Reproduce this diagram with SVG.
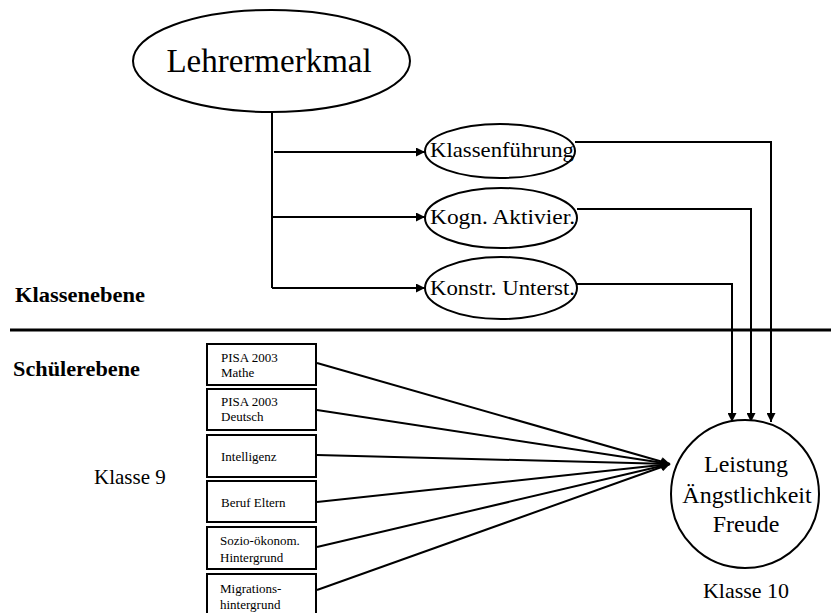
<svg xmlns="http://www.w3.org/2000/svg" width="831" height="613" viewBox="0 0 831 613" font-family="'Liberation Serif', 'Times New Roman', 'DejaVu Serif', serif">
<style>
text{font-family:'Liberation Serif','Times New Roman','DejaVu Serif',serif;fill:#000}
.node{fill:#fff;stroke:#000;stroke-width:2}
.c{fill:none;stroke:#000;stroke-width:2}
</style>
<defs>
<marker id="ah" viewBox="0 0 10 10" refX="10" refY="5" markerWidth="11" markerHeight="9" markerUnits="userSpaceOnUse" orient="auto">
<path d="M0,0 L10,5 L0,10 z" fill="#000"/>
</marker>
</defs>
<rect width="831" height="613" fill="#fff"/>
<g id="connectors">
<path class="c" d="M272,112 V288"/>
<path class="c" d="M274,152 H425" marker-end="url(#ah)"/>
<path class="c" d="M272,217 H425" marker-end="url(#ah)"/>
<path class="c" d="M272,288 H425" marker-end="url(#ah)"/>
<path class="c" d="M575,142 H771 V422" marker-end="url(#ah)"/>
<path class="c" d="M577,209 H751 V422" marker-end="url(#ah)"/>
<path class="c" d="M577,284 H732 V422" marker-end="url(#ah)"/>
<path class="c" d="M317,363 L670,464" marker-end="url(#ah)"/>
<path class="c" d="M317,410 L670,464" marker-end="url(#ah)"/>
<path class="c" d="M317,455 L670,464" marker-end="url(#ah)"/>
<path class="c" d="M317,502 L670,464" marker-end="url(#ah)"/>
<path class="c" d="M317,547 L670,464" marker-end="url(#ah)"/>
<path class="c" d="M317,590 L670,464" marker-end="url(#ah)"/>
</g>
<line x1="10" y1="330" x2="831" y2="330" stroke="#000" stroke-width="3"/>
<text x="15" y="302" font-size="20" font-weight="bold" textLength="130" lengthAdjust="spacingAndGlyphs">Klassenebene</text>
<text x="13" y="376" font-size="20" font-weight="bold" textLength="127" lengthAdjust="spacingAndGlyphs">Schülerebene</text>
<g id="lehrermerkmal">
<ellipse class="node" cx="271.5" cy="61" rx="138.5" ry="51"/>
<text x="269" y="72" font-size="33" text-anchor="middle">Lehrermerkmal</text>
</g>
<g id="klassenfuehrung">
<ellipse class="node" cx="500" cy="151" rx="75" ry="27"/>
<text x="430" y="157" font-size="22" textLength="144" lengthAdjust="spacingAndGlyphs">Klassenführung</text>
</g>
<g id="kogn">
<ellipse class="node" cx="501" cy="218" rx="76" ry="30"/>
<text x="430" y="224" font-size="22" textLength="145" lengthAdjust="spacingAndGlyphs">Kogn. Aktivier.</text>
</g>
<g id="konstr">
<ellipse class="node" cx="501" cy="288" rx="76" ry="31"/>
<text x="430" y="295" font-size="22" textLength="145" lengthAdjust="spacingAndGlyphs">Konstr. Unterst.</text>
</g>
<g id="box1">
<rect class="node" x="207" y="344" width="109" height="41"/>
<text x="221" y="362" font-size="13">PISA 2003</text>
<text x="221" y="377" font-size="13">Mathe</text>
</g>
<g id="box2">
<rect class="node" x="207" y="389" width="109" height="41"/>
<text x="221" y="406" font-size="13">PISA 2003</text>
<text x="221" y="421" font-size="13">Deutsch</text>
</g>
<g id="box3">
<rect class="node" x="207" y="435" width="109" height="42"/>
<text x="221" y="461" font-size="13">Intelligenz</text>
</g>
<g id="box4">
<rect class="node" x="207" y="481" width="109" height="41"/>
<text x="221" y="507" font-size="13">Beruf Eltern</text>
</g>
<g id="box5">
<rect class="node" x="207" y="527" width="109" height="42"/>
<text x="220" y="545" font-size="13">Sozio-ökonom.</text>
<text x="220" y="562" font-size="13">Hintergrund</text>
</g>
<g id="box6">
<rect class="node" x="207" y="574" width="109" height="45"/>
<text x="220" y="593" font-size="13">Migrations-</text>
<text x="220" y="609" font-size="13">hintergrund</text>
</g>
<text x="94" y="484" font-size="21">Klasse 9</text>
<g id="outcome">
<circle class="node" cx="745" cy="494" r="74"/>
<text x="746" y="472" font-size="24" text-anchor="middle">Leistung</text>
<text x="747" y="503" font-size="24" text-anchor="middle">Ängstlichkeit</text>
<text x="746" y="532" font-size="24" text-anchor="middle">Freude</text>
</g>
<text x="746" y="598" font-size="22" text-anchor="middle">Klasse 10</text>
</svg>
